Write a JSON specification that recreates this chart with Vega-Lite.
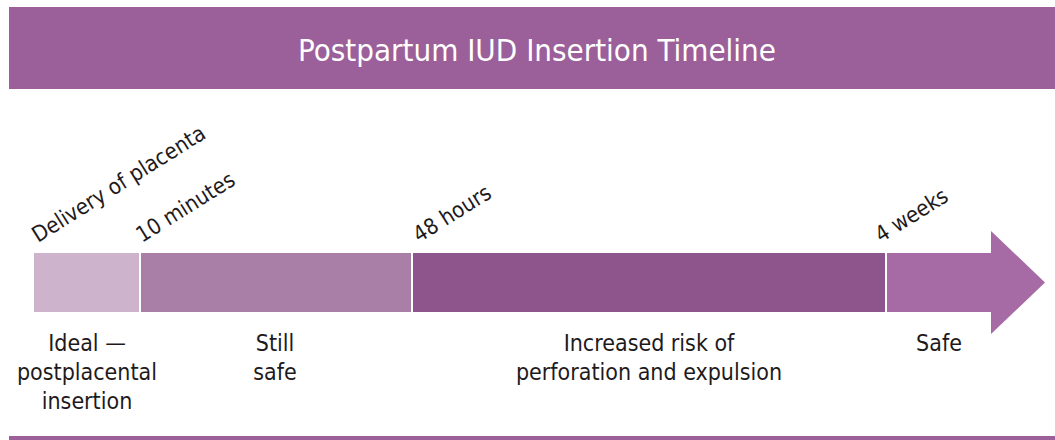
{
  "$schema": "https://vega.github.io/schema/vega-lite/v6.json",
  "autosize": {"type": "fit", "contains": "padding"},
  "width": 1055,
  "height": 440,
  "padding": 0,
  "background": "white",
  "config": {"view": {"stroke": null}, "font": "DejaVu Sans Condensed, Liberation Sans, sans-serif"},
  "datasets": {
    "segments": [
      {"phase": "Ideal", "start": 34, "end": 139},
      {"phase": "Still safe", "start": 141, "end": 411},
      {"phase": "Increased risk", "start": 413, "end": 885},
      {"phase": "Safe", "start": 887, "end": 992}
    ],
    "arrow": [
      {"pos": 991, "top": 231, "bottom": 334},
      {"pos": 1045, "top": 282.5, "bottom": 282.5}
    ],
    "milestones": [
      {"label": "Delivery of placenta", "pos": 38},
      {"label": "10 minutes", "pos": 142},
      {"label": "48 hours", "pos": 419},
      {"label": "4 weeks", "pos": 881}
    ],
    "notes": [
      {"text": ["Ideal \u2014", "postplacental", "insertion"], "center": 87},
      {"text": ["Still", "safe"], "center": 275},
      {"text": ["Increased risk of", "perforation and expulsion"], "center": 649},
      {"text": ["Safe"], "center": 939}
    ],
    "frame": [{"title": "Postpartum IUD Insertion Timeline"}]
  },
  "layer": [
    {
      "data": {"name": "frame"},
      "mark": {"type": "rect", "color": "#9b5f9a"},
      "encoding": {
        "x": {"datum": 9, "type": "quantitative", "scale": {"domain": [0, 1055], "nice": false, "zero": false}, "axis": null},
        "x2": {"datum": 1055},
        "y": {"datum": 7, "type": "quantitative", "scale": {"domain": [0, 440], "nice": false, "zero": false, "reverse": true}, "axis": null},
        "y2": {"datum": 89}
      }
    },
    {
      "data": {"name": "frame"},
      "mark": {"type": "text", "color": "white", "fontSize": 31, "align": "center", "baseline": "alphabetic"},
      "encoding": {
        "x": {"datum": 537, "type": "quantitative"},
        "y": {"datum": 61, "type": "quantitative"},
        "text": {"field": "title"}
      }
    },
    {
      "data": {"name": "frame"},
      "mark": {"type": "rect", "color": "#9b5f9a"},
      "encoding": {
        "x": {"datum": 9, "type": "quantitative"},
        "x2": {"datum": 1055},
        "y": {"datum": 436, "type": "quantitative"},
        "y2": {"datum": 440}
      }
    },
    {
      "data": {"name": "arrow"},
      "mark": {"type": "area", "color": "#a66ba5", "orient": "vertical"},
      "encoding": {
        "x": {"field": "pos", "type": "quantitative"},
        "y": {"field": "top", "type": "quantitative"},
        "y2": {"field": "bottom"}
      }
    },
    {
      "data": {"name": "segments"},
      "mark": {"type": "rect"},
      "encoding": {
        "x": {"field": "start", "type": "quantitative"},
        "x2": {"field": "end"},
        "y": {"datum": 253, "type": "quantitative"},
        "y2": {"datum": 312},
        "color": {
          "field": "phase",
          "type": "nominal",
          "scale": {
            "domain": ["Ideal", "Still safe", "Increased risk", "Safe"],
            "range": ["#cdb3cc", "#a97fa8", "#8e558d", "#a66ba5"]
          },
          "legend": null
        }
      }
    },
    {
      "data": {"name": "milestones"},
      "mark": {"type": "text", "angle": -32, "align": "left", "baseline": "alphabetic", "fontSize": 22, "color": "#1e1a1c"},
      "encoding": {
        "x": {"field": "pos", "type": "quantitative"},
        "y": {"datum": 243, "type": "quantitative"},
        "text": {"field": "label"}
      }
    },
    {
      "data": {"name": "notes"},
      "mark": {"type": "text", "align": "center", "baseline": "alphabetic", "fontSize": 23, "lineHeight": 29, "color": "#1e1a1c"},
      "encoding": {
        "x": {"field": "center", "type": "quantitative"},
        "y": {"datum": 351, "type": "quantitative"},
        "text": {"field": "text"}
      }
    }
  ]
}
